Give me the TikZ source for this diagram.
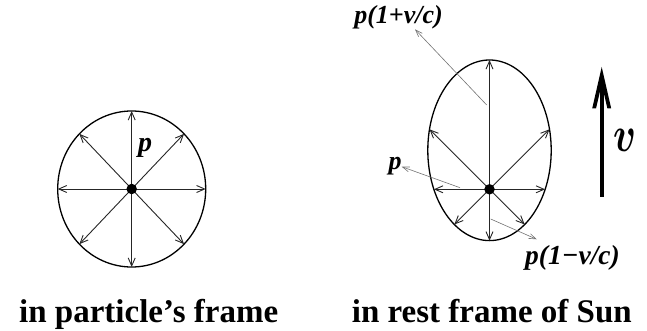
\documentclass[tikz,border=0pt]{standalone}
\usepackage{fontspec}
\setmainfont{Liberation Serif}
\usetikzlibrary{arrows.meta}
\begin{document}
\begin{tikzpicture}[x=1pt,y=-1pt,
  ray/.style={line width=0.9pt, draw=black!85, -{Straight Barb[length=8pt,width=7pt]}},
  pointer/.style={line width=0.6pt, draw=black!55, -{Straight Barb[length=7pt,width=5pt]}},
  rim/.style={line width=1.3pt},
  lbl/.style={font=\fontsize{26}{26}\selectfont\bfseries\itshape, inner sep=0pt},
  caption/.style={font=\fontsize{33}{33}\selectfont\bfseries, inner sep=0pt, anchor=base west},
  dot/.style={circle, fill=black, minimum size=10.5pt, inner sep=0pt}]
\useasboundingbox (0,0) rectangle (647,331);
% left: particle's frame
\coordinate (c1) at (131.7,189);
\draw[rim] (c1) ellipse [x radius=74, y radius=78];
\foreach \a in {0,45,...,315} \draw[ray] (c1) -- ++(\a:74 and 78);
\node[dot] (d1) at (c1) {};
\node[lbl, font=\fontsize{28}{28}\selectfont\bfseries\itshape] (pl) at (145,148) {p};
% right: rest frame of Sun
\coordinate (c2) at (489.5,189.3);
\coordinate (e2) at (489.5,150.3);
\draw[rim] (e2) ellipse [x radius=61.7, y radius=90.3];
\foreach \p in {(489.5,60),(489.5,240.7),(433.9,189.3),(545.1,189.3),(429.5,129.3),(549.5,129.3),(454.3,224.5),(524.7,224.5)}
  \draw[ray] (c2) -- \p;
\node[dot] (d2) at (c2) {};
\node[lbl] (ptop) at (398.5,17) {p(1+v/c)};
\node[lbl, font=\fontsize{27.5}{27.5}\selectfont\bfseries\itshape] (pbot) at (572.5,258) {p(1−v/c)};
\node[lbl] (pr) at (395,166) {p};
\coordinate (s1) at (486.7,105);
\coordinate (s2) at (460,187.7);
\coordinate (s3) at (490.7,219);
\coordinate (t1) at (415,29.3);
\coordinate (t2) at (401.7,166.7);
\coordinate (t3) at (536.7,239.3);
\draw[pointer] (s1) -- (t1);
\draw[pointer] (s2) -- (t2);
\draw[pointer] (s3) -- (t3);
% velocity arrow
\coordinate (vb) at (601.7,196.7);
\coordinate (vt) at (601.7,67);
\draw[line width=4pt] (vb) -- (601.7,84);
\fill (vt) -- (611.2,108.5) -- (607.4,108.5) -- (601.7,84) -- (596,108.5) -- (592.2,108.5) -- cycle;
\node[font=\fontsize{10}{10}\selectfont, inner sep=0pt] (vl) at (624.5,140) {\scalebox{3.8}[5]{\boldmath$v$}};
% captions
\node[caption] (cap1) at (19,322) {in particle’s frame};
\node[caption] (cap2) at (351.7,322) {in rest frame of Sun};
\end{tikzpicture}
\end{document}
